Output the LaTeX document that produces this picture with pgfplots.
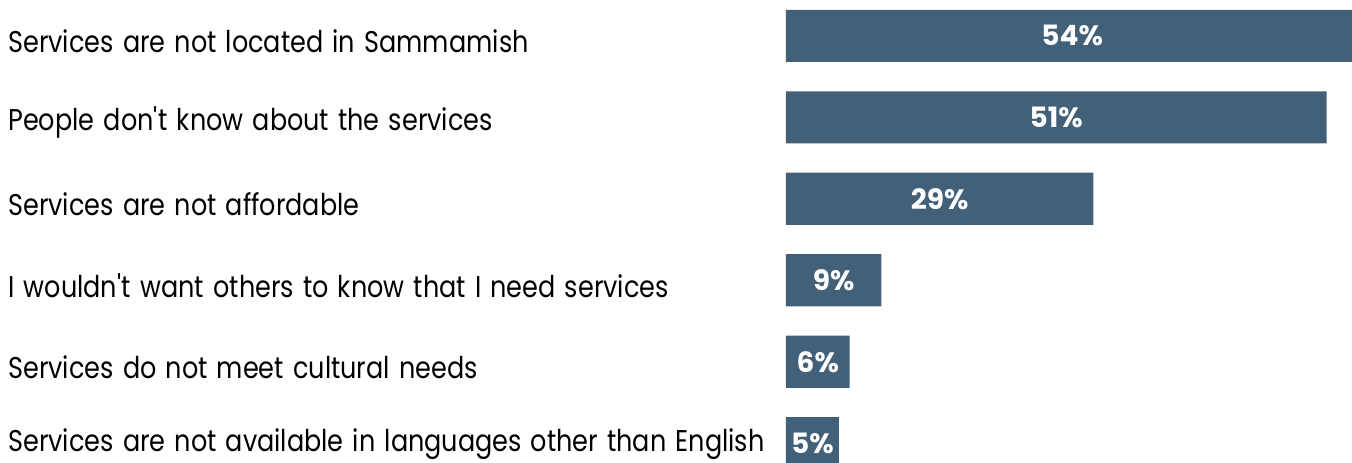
\documentclass[border=0pt]{standalone}
\usepackage{pgfplots}
\pgfplotsset{compat=1.18}
\usepackage{pgfplotstable}
\usepackage{fontspec}
\setmainfont{Poppins}
\newfontfamily\labelfont{Poppins}[FakeStretch=0.85, WordSpace=1.35]
\definecolor{barblue}{HTML}{426077}
\pgfplotstableread{
y v
0 54
1 51
2 29
3 9
4 6
5 5
}\datatable
\begin{document}
\begin{tikzpicture}
\begin{axis}[
  scale only axis,
  width=283pt, height=231pt,
  xmin=0, xmax=53.4,
  ymin=-0.44, ymax=5.23,
  y dir=reverse,
  axis line style={draw=none},
  major tick length=0pt,
  xtick=\empty,
  ytick={0,1,2,3,4,4.95},
  yticklabels={Services are not located in Sammamish,
               People don\textquotesingle t know about the services,
               Services are not affordable,
               I wouldn\textquotesingle t want others to know that I need services,
               Services do not meet cultural needs,
               Services are not available in languages other than English},
  yticklabel style={anchor=west, xshift=-389pt, yshift=-2.5pt, inner sep=0pt, font=\labelfont\fontsize{15}{17}\selectfont, text=black},
  clip=true,
]
\addplot[xbar, bar width=0.64, fill=barblue, draw=none] table[x=v, y=y] {\datatable};
\addplot[only marks, mark=none,
  point meta=explicit,
  nodes near coords={\pgfmathprintnumber[assume math mode=true]{\pgfplotspointmeta}\%},
  every node near coord/.append style={anchor=center, text=white, font=\bfseries\fontsize{14}{16}\selectfont}]
  table[x expr=\thisrow{v}/2, y=y, meta=v] {\datatable};
\end{axis}
\pgfresetboundingbox
\path (current axis.south west) ++(-393pt,0pt) rectangle (current axis.north east);
\end{tikzpicture}
\end{document}
